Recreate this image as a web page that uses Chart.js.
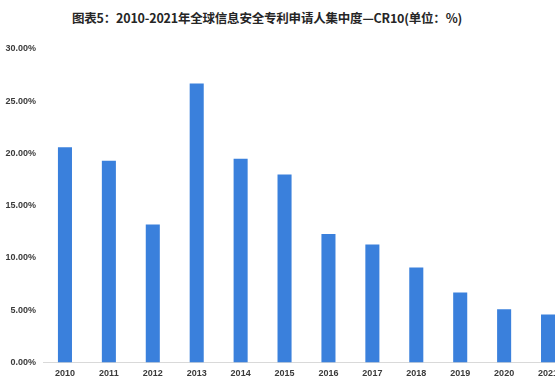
<!DOCTYPE html>
<html>
<head>
<meta charset="utf-8">
<title>全球信息安全专利申请人集中度</title>
<script src="https://cdn.jsdelivr.net/npm/chart.js@4.4.1/dist/chart.umd.min.js"></script>
<style>
    html, body {
        margin: 0;
        padding: 0;
        background: #ffffff;
        overflow: hidden;
    }
    #wrap {
        position: relative;
        width: 555px;
        height: 382px;
        overflow: hidden;
    }
    #chartTitle {
        position: absolute;
        left: 72px;
        top: 8px;
        margin: 0;
        font: bold 12.5px "Noto Sans CJK SC", "Noto Sans", sans-serif;
        color: #262626;
        white-space: nowrap;
        letter-spacing: -0.2px;
    }
    #crChart {
        position: absolute;
        left: 0;
        top: 0;
    }
</style>
</head>
<body>
<div id="wrap">
    <div id="chartTitle">图表5：2010-2021年全球信息安全专利申请人集中度—CR10(单位：%)</div>
    <canvas id="crChart" width="571" height="382"></canvas>
</div>

<script>
// ============================================
// DATA
// ============================================

// Years on the x axis
const years = ['2010', '2011', '2012', '2013', '2014', '2015',
               '2016', '2017', '2018', '2019', '2020', '2021'];

// CR10 concentration (%) for each year
const cr10 = [20.6, 19.3, 13.2, 26.7, 19.5, 18.0, 12.3, 11.3, 9.1, 6.7, 5.1, 4.6];

// Y axis range and step (%)
const yMin = 0;
const yMax = 30;
const yStep = 5;

// ============================================
// CHART
// ============================================

const tickFont = { family: '"Liberation Sans", Arial, sans-serif', size: 9, weight: 'bold' };

const ctx = document.getElementById('crChart').getContext('2d');

new Chart(ctx, {
    type: 'bar',
    data: {
        labels: years,
        datasets: [{
            label: 'CR10',
            data: cr10,
            backgroundColor: '#3a80dc',
            borderWidth: 0,
            categoryPercentage: 0.8,
            barPercentage: 0.4
        }]
    },
    options: {
        responsive: false,
        animation: false,
        layout: {
            padding: { top: 49, right: 1, bottom: 0, left: 0 }
        },
        scales: {
            x: {
                grid: { display: false, drawTicks: false },
                border: { display: true, color: '#d9d9d9', width: 1 },
                ticks: {
                    color: '#3a3a3a',
                    font: tickFont,
                    padding: 6,
                    maxRotation: 0,
                    autoSkip: false
                },
                // fixed height so the baseline sits where it should
                afterFit: (scale) => { scale.height = 19.5; }
            },
            y: {
                min: yMin,
                max: yMax,
                grid: { display: false, drawTicks: false },
                border: { display: false },
                ticks: {
                    stepSize: yStep,
                    color: '#3a3a3a',
                    font: tickFont,
                    padding: 7,
                    callback: (value) => Number(value).toFixed(2) + '%'
                },
                afterFit: (scale) => { scale.width = 43; }
            }
        },
        plugins: {
            legend: { display: false },
            tooltip: { enabled: false }
        }
    }
});
</script>
</body>
</html>
